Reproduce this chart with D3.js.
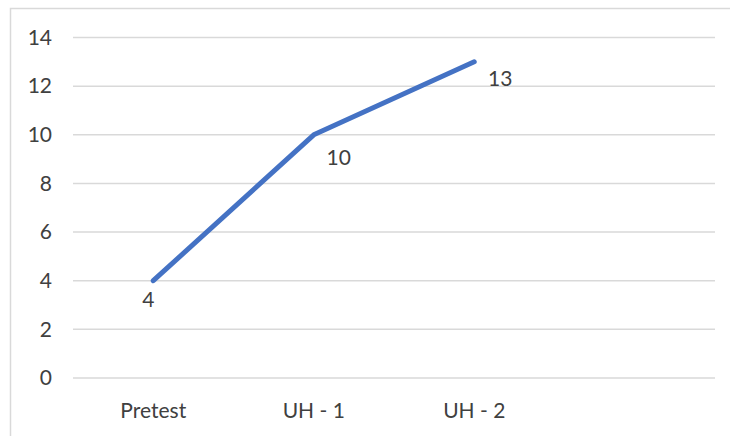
<!DOCTYPE html>
<html><head><meta charset="utf-8">
<script src="https://cdn.jsdelivr.net/npm/d3@7"></script>
<style>body{margin:0;background:#fff;}svg{display:block;}</style>
</head><body>
<script>
const categories = ["Pretest", "UH - 1", "UH - 2", ""];
const values = [4, 10, 13];
const yTicks = [0, 2, 4, 6, 8, 10, 12, 14];
const labelOffsets = [[-5, 26], [25, 30], [26, 24]];

const W = 730, H = 436;
const svg = d3.select("body").append("svg").attr("width", W).attr("height", H);
const font = "Lato, 'Open Sans', sans-serif";
const fs = 21;

svg.append("rect").attr("x", 10.5).attr("y", 8.5).attr("width", 740).attr("height", 450)
  .attr("fill", "none").attr("stroke", "#d9d9d9").attr("stroke-width", 1.5);

const x = d3.scaleBand().domain(categories).range([73, 715]);
const y = d3.scaleLinear().domain([0, 14]).range([378, 37.5]);

const grid = svg.append("g");
grid.selectAll("line").data(yTicks).join("line")
  .attr("x1", 73).attr("x2", 715)
  .attr("y1", d => y(d)).attr("y2", d => y(d))
  .attr("stroke", "#d9d9d9").attr("stroke-width", 1.5);

const yAxis = svg.append("g").attr("transform", "translate(52,0)")
  .call(d3.axisLeft(y).tickValues(yTicks).tickSize(0).tickPadding(0));
yAxis.select(".domain").remove();
yAxis.selectAll("text").attr("font-family", font).attr("font-size", fs).attr("fill", "#404040");

const xAxis = svg.append("g").attr("transform", "translate(0,403)")
  .call(d3.axisBottom(x).tickSize(0).tickPadding(0));
xAxis.select(".domain").remove();
xAxis.selectAll("text").attr("font-family", font).attr("font-size", fs).attr("fill", "#404040");

const pts = values.map((v, i) => [x(categories[i]) + x.bandwidth() / 2, y(v)]);
svg.append("path").datum(pts)
  .attr("d", d3.line())
  .attr("fill", "none").attr("stroke", "#4472C4").attr("stroke-width", 5)
  .attr("stroke-linecap", "round").attr("stroke-linejoin", "round");

svg.selectAll(".dl").data(values).join("text").attr("class", "dl")
  .attr("x", (d, i) => pts[i][0] + labelOffsets[i][0])
  .attr("y", (d, i) => pts[i][1] + labelOffsets[i][1])
  .attr("text-anchor", "middle")
  .attr("font-family", font).attr("font-size", fs).attr("fill", "#404040")
  .text(d => d);
</script>
</body></html>
